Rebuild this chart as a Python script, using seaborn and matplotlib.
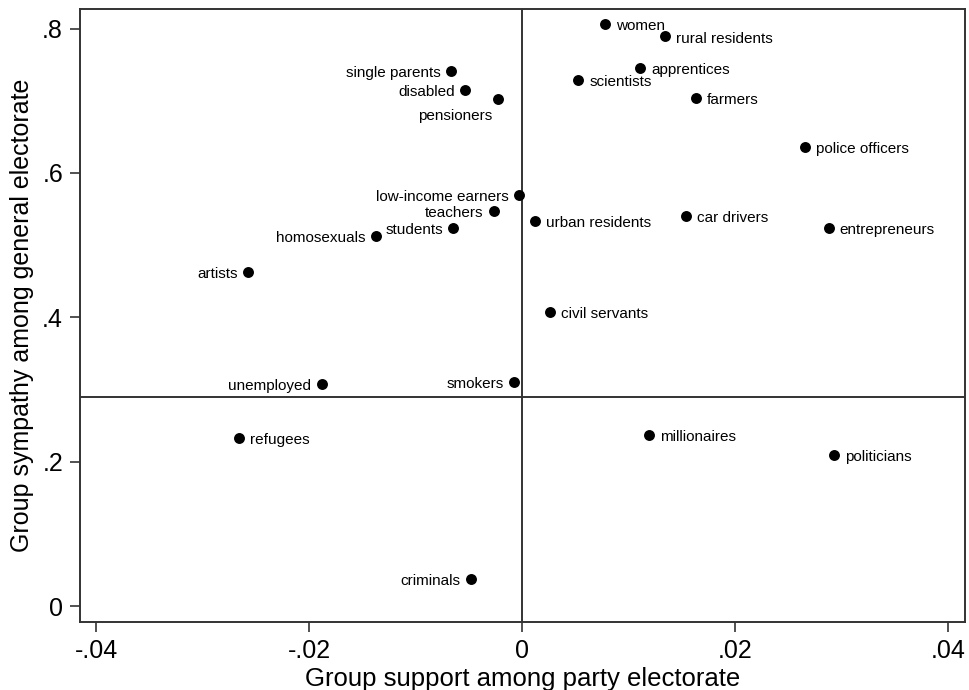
import matplotlib
matplotlib.use("Agg")
import matplotlib.pyplot as plt
import seaborn as sns
import pandas as pd

groups = ["women", "rural residents", "single parents", "apprentices", "scientists",
          "disabled", "pensioners", "farmers", "police officers", "low-income earners",
          "teachers", "urban residents", "car drivers", "entrepreneurs", "students",
          "homosexuals", "artists", "civil servants", "unemployed", "smokers",
          "refugees", "millionaires", "politicians", "criminals"]
support = [0.00777, 0.0134, -0.00672, 0.01105, 0.00526,
           -0.00538, -0.00225, 0.01628, 0.02654, -0.00028,
           -0.00266, 0.00119, 0.0154, 0.02878, -0.00648,
           -0.01373, -0.02573, 0.0026, -0.01884, -0.00075,
           -0.02657, 0.01193, 0.02925, -0.00482]
sympathy = [0.806, 0.789, 0.7416, 0.7457, 0.7287,
            0.7148, 0.7019, 0.7033, 0.6363, 0.5694,
            0.5477, 0.5334, 0.540, 0.5236, 0.5241,
            0.5126, 0.4623, 0.4069, 0.3076, 0.3108,
            0.2324, 0.2370, 0.2093, 0.0375]
# label position (clock, as in Stata mlabpos)
label_pos = [3, 3, 9, 3, 3,
             9, 7, 3, 3, 9,
             9, 3, 3, 3, 9,
             9, 9, 3, 9, 9,
             3, 3, 3, 9]
hline_value = 0.29
vline_value = 0.0
xticks = [-0.04, -0.02, 0.0, 0.02, 0.04]
xtick_labels = ["-.04", "-.02", "0", ".02", ".04"]
yticks = [0.0, 0.2, 0.4, 0.6, 0.8]
ytick_labels = ["0", ".2", ".4", ".6", ".8"]

df = pd.DataFrame({"group": groups, "support": support, "sympathy": sympathy, "pos": label_pos})

sns.set_theme(style="white")
plt.rcParams["font.family"] = ["Liberation Sans", "DejaVu Sans"]
plt.rcParams["text.color"] = "black"
plt.rcParams["axes.labelcolor"] = "black"
plt.rcParams["xtick.labelcolor"] = "black"
plt.rcParams["ytick.labelcolor"] = "black"

fig = plt.figure(figsize=(9.7, 6.9), dpi=100)
ax = fig.add_axes([0.0825, 0.099, 0.9123, 0.8875])

ax.axhline(hline_value, color="#333333", lw=1.4, zorder=1)
ax.axvline(vline_value, color="#333333", lw=1.4, zorder=1)

sns.scatterplot(data=df, x="support", y="sympathy", ax=ax, color="black",
                s=62, edgecolor="black", linewidth=0, zorder=3, legend=False)

for _, r in df.iterrows():
    if r["pos"] == 3:
        ax.annotate(r["group"], (r["support"], r["sympathy"]), xytext=(8, -1.5),
                    textcoords="offset points", ha="left", va="center", fontsize=11,
                    color="black")
    elif r["pos"] == 9:
        ax.annotate(r["group"], (r["support"], r["sympathy"]), xytext=(-7.5, -1.5),
                    textcoords="offset points", ha="right", va="center", fontsize=11,
                    color="black")
    else:
        ax.annotate(r["group"], (r["support"], r["sympathy"]), xytext=(-4, -12),
                    textcoords="offset points", ha="right", va="center", fontsize=11,
                    color="black")

ax.set_xlim(-0.04153, 0.04157)
ax.set_ylim(-0.0216, 0.8266)
ax.set_xticks(xticks)
ax.set_xticklabels(xtick_labels)
ax.set_yticks(yticks)
ax.set_yticklabels(ytick_labels)
ax.tick_params(axis="both", which="both", direction="out", length=7.2, width=1.2,
               color="#333333", labelcolor="black", labelsize=18, pad=5,
               bottom=True, left=True)
for sp in ax.spines.values():
    sp.set_color("#333333")
    sp.set_linewidth(1.4)

ax.set_xlabel("Group support among party electorate", fontsize=18.5, labelpad=3,
              color="black")
ax.set_ylabel("Group sympathy among general electorate", fontsize=18, labelpad=6,
              color="black")

fig.savefig("out.png", dpi=100)
